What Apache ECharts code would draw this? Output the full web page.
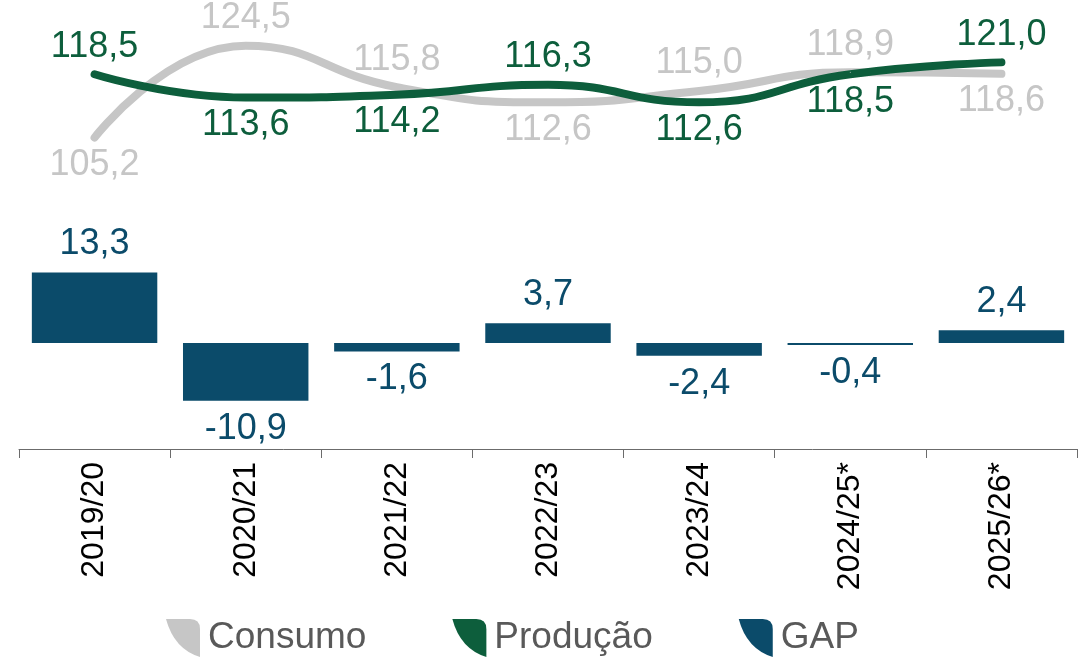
<!DOCTYPE html>
<html>
<head>
<meta charset="utf-8">
<script src="https://cdn.jsdelivr.net/npm/echarts@6/dist/echarts.min.js"></script>
<style>
html,body{margin:0;padding:0;background:#fff;}
#chart{width:1081px;height:657px;}
</style>
</head>
<body>
<div id="chart"></div>
<script>
const categories = ['2019/20','2020/21','2021/22','2022/23','2023/24','2024/25*','2025/26*'];
const consumo = [105.2,124.5,115.8,112.6,115.0,118.9,118.6];
const producao = [118.5,113.6,114.2,116.3,112.6,118.5,121.0];
const gap = [13.3,-10.9,-1.6,3.7,-2.4,-0.4,2.4];

const consumoLabelPos = ['bottom','top','top','bottom','top','top','bottom'];
const producaoLabelPos = ['top','bottom','bottom','top','bottom','bottom','top'];

const GRAY = '#C6C6C6';
const GREEN = '#0D5E3C';
const BLUE = '#0B4B6A';
const FONT = '"Liberation Sans", Arial, sans-serif';
const fmt = v => v.toFixed(1).replace('.', ',');
const leaf = 'path://M0,0 L24,0 Q34,0 34,10 L34,38 Q8,30 0,0 Z';

const chart = echarts.init(document.getElementById('chart'), null, {renderer:'canvas'});

function lineData(vals, pos) {
  return vals.map((v, i) => ({ value: v, label: { position: pos[i] } }));
}

chart.setOption({
  animation: false,
  textStyle: { fontFamily: FONT },
  grid: { left: 19, right: 4, top: 0, bottom: 208, containLabel: false },
  legend: {
    data: ['Consumo', 'Produção', 'GAP'],
    icon: leaf,
    itemWidth: 34,
    itemHeight: 38,
    itemGap: 86,
    left: 166,
    top: 619,
    padding: 0,
    textStyle: { fontSize: 37, color: '#595959', fontFamily: FONT, padding: [0,0,0,3] }
  },
  xAxis: {
    type: 'category',
    data: categories,
    axisLine: { onZero: false, lineStyle: { color: '#6b6b6b', width: 1 } },
    axisTick: { show: true, length: 9, lineStyle: { color: '#6b6b6b' } },
    axisLabel: { rotate: 90, fontSize: 32, color: '#000', margin: 13, fontFamily: FONT }
  },
  yAxis: [
    { type: 'value', min: -20, max: 64.7, show: false, splitLine: { show: false } },
    { type: 'value', min: 39.8, max: 134.1, show: false, splitLine: { show: false } }
  ],
  series: [
    {
      name: 'GAP',
      type: 'bar',
      yAxisIndex: 0,
      barCategoryGap: '17%',
      color: BLUE,
      itemStyle: { color: BLUE },
      data: gap.map(v => ({ value: v, label: { position: v >= 0 ? 'top' : 'bottom' } })),
      label: {
        show: true, fontSize: 36, color: BLUE, distance: 10, fontFamily: FONT,
        formatter: p => fmt(p.value)
      }
    },
    {
      name: 'Consumo',
      type: 'line',
      yAxisIndex: 1,
      smooth: 0.5,
      symbol: 'circle',
      symbolSize: 1,
      color: GRAY,
      itemStyle: { color: GRAY },
      lineStyle: { color: GRAY, width: 8, cap: 'round' },
      data: lineData(consumo, consumoLabelPos),
      label: {
        show: true, fontSize: 36, color: GRAY, distance: 9, fontFamily: FONT,
        formatter: p => fmt(p.value)
      }
    },
    {
      name: 'Produção',
      type: 'line',
      yAxisIndex: 1,
      smooth: 0.5,
      symbol: 'circle',
      symbolSize: 1,
      color: GREEN,
      itemStyle: { color: GREEN },
      lineStyle: { color: GREEN, width: 8, cap: 'round' },
      data: lineData(producao, producaoLabelPos),
      label: {
        show: true, fontSize: 36, color: GREEN, distance: 9, fontFamily: FONT,
        formatter: p => fmt(p.value)
      }
    }
  ]
});
</script>
</body>
</html>
